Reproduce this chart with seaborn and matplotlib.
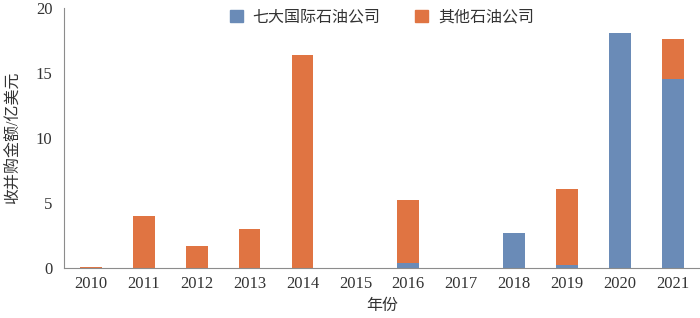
import pandas as pd
import seaborn as sns
import matplotlib.pyplot as plt
from matplotlib.patches import Patch
import numpy as np

# 数据
years = ['2010', '2011', '2012', '2013', '2014', '2015', '2016', '2017', '2018', '2019', '2020', '2021']
major_oil = [0, 0, 0, 0, 0, 0, 0.38, 0, 2.67, 0.26, 18.05, 14.5]
other_oil = [0.12, 4.02, 1.69, 2.97, 16.36, 0, 4.82, 0, 0, 5.79, 0, 3.1]

blue = '#6a8bb7'
orange = '#e07442'
grey = '#8c8c8c'
txt = '#333333'

df = pd.DataFrame({'year': years, 'major': major_oil, 'other': other_oil})
df['total'] = df['major'] + df['other']

sns.set_style('white')
plt.rcParams['font.family'] = ['Liberation Serif', 'Noto Sans CJK SC']

fig, ax = plt.subplots(figsize=(7, 3.18), dpi=100)
fig.subplots_adjust(left=0.092, right=0.999, top=0.975, bottom=0.157)

# 先画总额（橙色），再叠加七大公司（蓝色）
sns.barplot(data=df, x='year', y='total', color=orange, width=0.41, saturation=1, linewidth=0, ax=ax)
sns.barplot(data=df, x='year', y='major', color=blue, width=0.41, saturation=1, linewidth=0, ax=ax)

ax.set_xlim(-0.5, len(years) - 0.5)
ax.set_ylim(0, 20)
ax.set_yticks([0, 5, 10, 15, 20])

# 刻度线位于类别边界
ax.set_xticks(np.arange(len(years)))
ax.set_xticklabels(years, fontsize=12, color=txt)
ax.set_xticks(np.arange(-0.5, len(years)), minor=True)
ax.tick_params(axis='x', which='major', length=0, pad=6)
ax.tick_params(axis='x', which='minor', length=5, color=grey, width=0.8, direction='out')
ax.tick_params(axis='y', length=5, color=grey, width=0.8, direction='out', labelsize=12, labelcolor=txt)

for side in ['top', 'right']:
    ax.spines[side].set_visible(False)
for side in ['left', 'bottom']:
    ax.spines[side].set_color(grey)
    ax.spines[side].set_linewidth(0.8)

ax.set_xlabel('年份', fontsize=11.5, color=txt, labelpad=4)
ax.set_ylabel('收并购金额/亿美元', fontsize=11.5, color=txt, labelpad=10)

handles = [Patch(color=blue, label='七大国际石油公司'), Patch(color=orange, label='其他石油公司')]
ax.legend(handles=handles, loc='upper center', bbox_to_anchor=(0.5, 1.05), ncol=2, frameon=False,
          fontsize=11.5, handlelength=0.8, handleheight=0.8, columnspacing=2.2, handletextpad=0.6,
          labelcolor=txt)

plt.savefig('out.png', dpi=100)
